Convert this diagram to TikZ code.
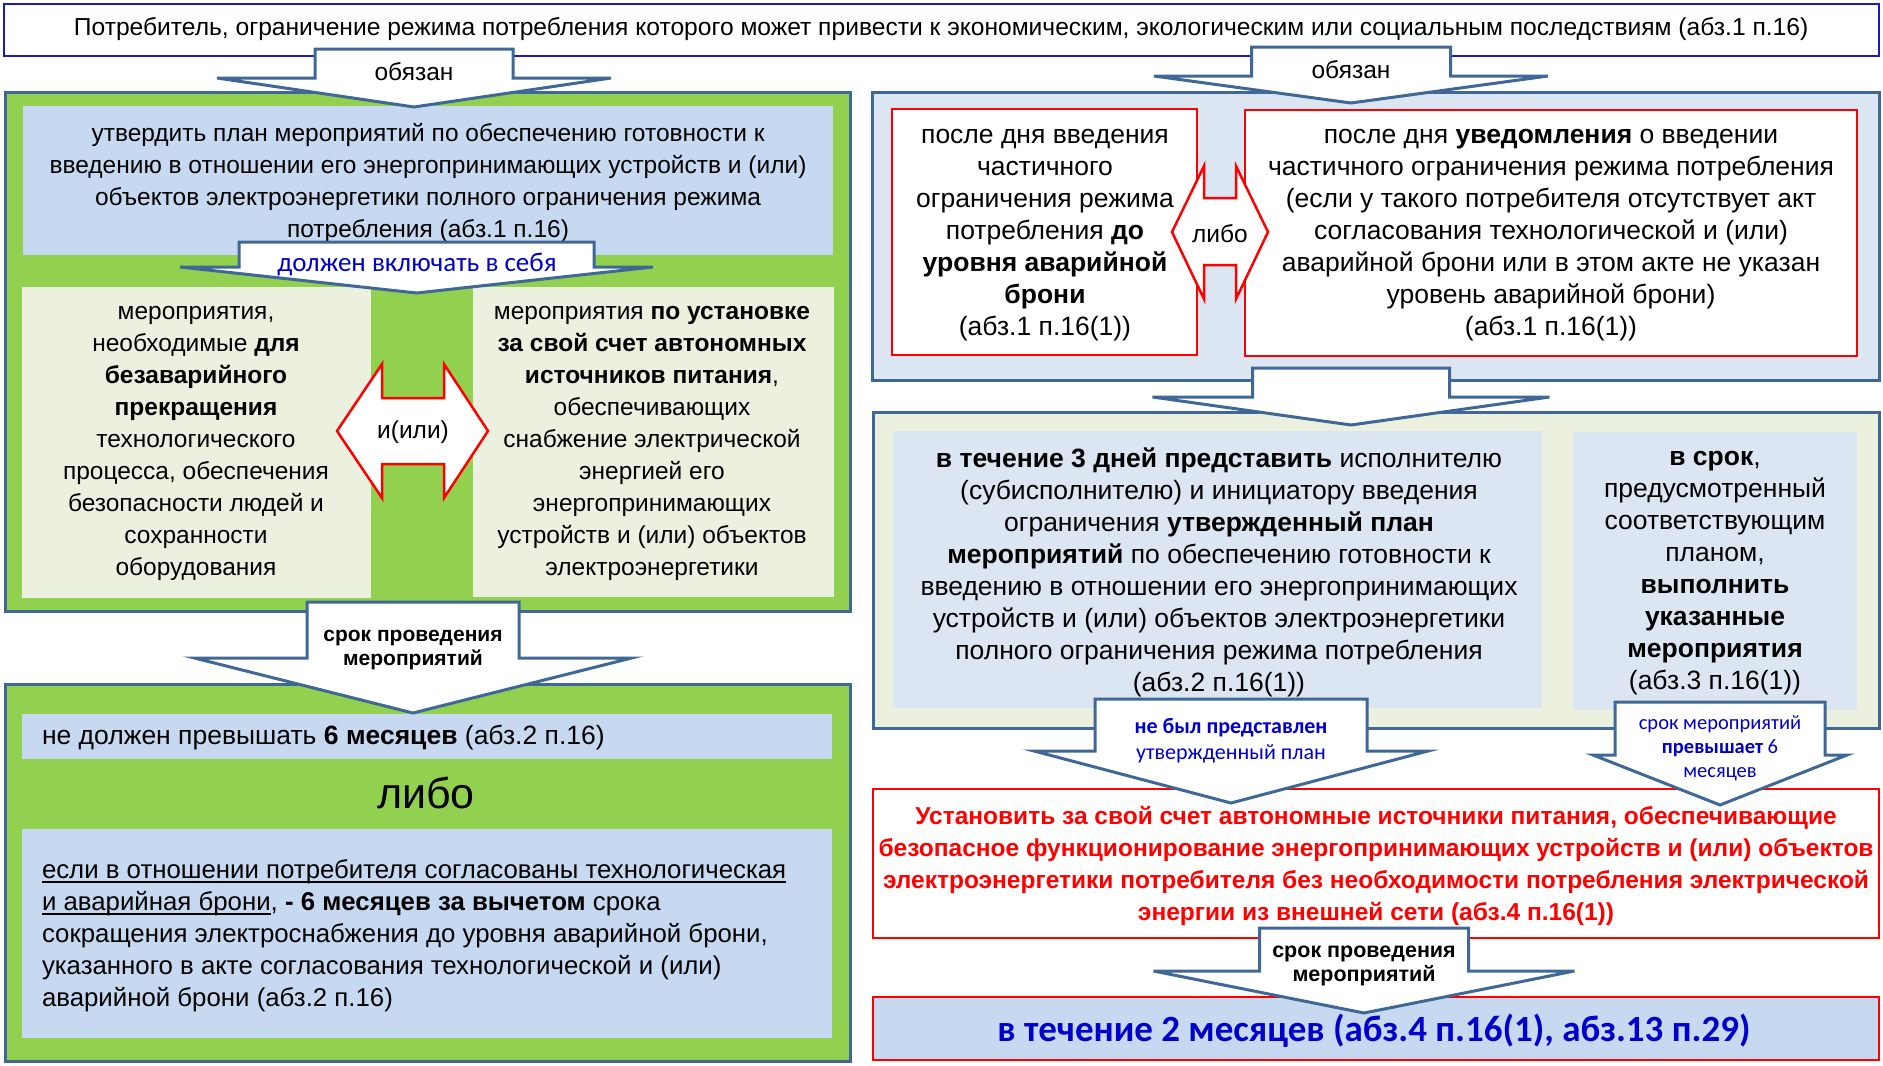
\documentclass[tikz,border=0pt]{standalone}
\usepackage{fontspec}
\setmainfont{Liberation Sans}
\newfontfamily\clb{Carlito}
\definecolor{grn}{HTML}{92D050}
\definecolor{bord}{HTML}{3F6896}
\definecolor{lblue}{HTML}{C6D9F1}
\definecolor{pblue}{HTML}{DCE6F2}
\definecolor{cream}{HTML}{EBF1DE}
\definecolor{tblue}{HTML}{0000CC}
\definecolor{topb}{HTML}{1A1AC8}
\definecolor{rd}{HTML}{FF0000}
\newcommand\ulx[1]{\setbox0\hbox{#1}\rlap{\rule[-4.5pt]{\wd0}{1.8pt}}\box0}
\newcommand\bx[6]{\node[#2, anchor=north west, inner sep=0pt, outer sep=0pt, minimum width={#5-#3}, minimum height={#6-#4}] (#1) at (#3,#4) {};}
% name, cx, shaft half, head half, top, shoulder, tip
\newcommand\dnarrow[7]{\draw[barrow] (#2-#3,#5) -- (#2+#3,#5) -- (#2+#3,#6) -- (#2+#4,#6) -- (#2,#7) -- (#2-#4,#6) -- (#2-#3,#6) -- cycle;
\coordinate (#1) at (#2,#7);}
% left tip x, shaft left, shaft right, right tip x, head top, shaft top, mid y, shaft bottom, head bottom
\newcommand\lrarrow[9]{\draw[rarrow] (#1,#7) -- (#2,#5) -- (#2,#6) -- (#3,#6) -- (#3,#5) -- (#4,#7) -- (#3,#9) -- (#3,#8) -- (#2,#8) -- (#2,#9) -- cycle;}
\begin{document}
\begin{tikzpicture}[x=1pt,y=-1pt,
  panel/.style={draw=bord, line width=3pt},
  barrow/.style={draw=bord, line width=3pt, fill=white, line join=miter},
  rarrow/.style={draw=rd, line width=2.5pt, fill=white, line join=miter},
  txt/.style={inner sep=0pt, outer sep=0pt, align=center, text=black},
  f24/.style={font=\fontsize{24.5}{32}\selectfont},
  f26/.style={font=\fontsize{26.5}{32}\selectfont},
  fsm/.style={font=\fontsize{21}{24}\selectfont\bfseries},
  fcl/.style={font=\clb\fontsize{20.5}{24}\selectfont, text=tblue}]
\fill[white] (0,0) rectangle (1883,1066);
\useasboundingbox (0,0) rectangle (1883,1066);

% top box
\bx{top}{draw=topb, line width=2.5pt, fill=white}{4}{4}{1879}{56}
\node[txt,font=\fontsize{24.6}{30}\selectfont] (ttop) at (941,29) {Потребитель, ограничение режима потребления которого может привести к экономическим, экологическим или социальным последствиям (абз.1 п.16)};

% left column
\bx{lg1}{panel, fill=grn}{5}{92}{850}{611}
\bx{lb1}{fill=lblue}{23}{106}{833}{255}
\bx{lc1}{fill=cream}{22}{287}{371}{598}
\bx{lc2}{fill=cream}{473}{287}{834}{597}
\bx{lg2}{panel, fill=grn}{5}{684}{850}{1061}
\bx{lb2}{fill=lblue}{22}{714}{832}{759}
\bx{lb3}{fill=lblue}{22}{829}{832}{1038}

% right column
\bx{rp1}{panel, fill=pblue}{872}{92}{1879}{380}
\bx{rr1}{draw=rd, line width=2pt, fill=white}{892}{109}{1197}{355}
\bx{rr2}{draw=rd, line width=2pt, fill=white}{1245}{110}{1857}{356}
\bx{rp2}{panel, fill=cream}{873}{412}{1879}{728}
\bx{rb1}{fill=pblue}{893}{431}{1542}{708}
\bx{rb2}{fill=pblue}{1573}{432}{1857}{710}
\bx{rr3}{draw=rd, line width=2pt, fill=white}{873}{789}{1879}{938}
\bx{rb4}{draw=rd, line width=2pt, fill=lblue}{873}{997}{1879}{1060}

% texts in boxes
\node[txt,f24] (tlb1) at (428,183) {утвердить план мероприятий по обеспечению готовности к\\введению в отношении его энергопринимающих устройств и (или)\\объектов электроэнергетики полного ограничения режима\\потребления (абз.1 п.16)};
\node[txt,f24] (tlc1) at (196,443) {мероприятия,\\необходимые \textbf{для}\\\textbf{безаварийного}\\\textbf{прекращения}\\технологического\\процесса, обеспечения\\безопасности людей и\\сохранности\\оборудования};
\node[txt,f24] (tlc2) at (652,443) {мероприятия \textbf{по установке}\\\textbf{за свой счет автономных}\\\textbf{источников питания},\\обеспечивающих\\снабжение электрической\\энергией его\\энергопринимающих\\устройств и (или) объектов\\электроэнергетики};
\node[txt,font=\fontsize{26.5}{32}\selectfont,anchor=west] (tlb2) at (42,738) {не должен превышать \textbf{6 месяцев} (абз.2 п.16)};
\node[txt,font=\fontsize{43}{48}\selectfont] (tlibo) at (426,793) {либо};
\node[txt,font=\fontsize{25.8}{32}\selectfont,anchor=west,align=left] (tlb3) at (42,936) {\ulx{если в отношении потребителя согласованы технологическая}\\\ulx{и аварийная брони}, \textbf{- 6 месяцев за вычетом} срока\\сокращения электроснабжения до уровня аварийной брони,\\указанного в акте согласования технологической и (или)\\аварийной брони (абз.2 п.16)};

\node[txt,f26] (trr1) at (1045,235) {после дня введения\\частичного\\ограничения режима\\потребления \textbf{до}\\\textbf{уровня аварийной}\\\textbf{брони}\\(абз.1 п.16(1))};
\node[txt,f26] (trr2) at (1551,235) {после дня \textbf{уведомления} о введении\\частичного ограничения режима потребления\\(если у такого потребителя отсутствует акт\\согласования технологической и (или)\\аварийной брони или в этом акте не указан\\уровень аварийной брони)\\(абз.1 п.16(1))};
\node[txt,f26] (trb1) at (1219,572) {\textbf{в течение 3 дней представить} исполнителю\\(субисполнителю) и инициатору введения\\ограничения \textbf{утвержденный план}\\\textbf{мероприятий} по обеспечению готовности к\\введению в отношении его энергопринимающих\\устройств и (или) объектов электроэнергетики\\полного ограничения режима потребления\\(абз.2 п.16(1))};
\node[txt,f26] (trb2) at (1715,573) {\textbf{в срок},\\предусмотренный\\соответствующим\\планом,\\\textbf{выполнить}\\\textbf{указанные}\\\textbf{мероприятия}\\(абз.3 п.16(1))};

% double arrows
\lrarrow{337}{382}{444}{488}{364}{398}{431}{464}{498}
\node[txt,f24] (tdl1) at (413,432) {и(или)};
\lrarrow{1172}{1204}{1236}{1268}{166}{198}{232}{265}{299}
\node[txt,f24] (tdl2) at (1220,234) {либо};

% block arrows
\dnarrow{a1}{414}{99}{197}{49}{78}{107}
\node[txt,f24] (ta1) at (414,72) {обязан};
\dnarrow{a2}{1351}{99.5}{197}{47}{76}{103}
\node[txt,f24] (ta2) at (1351,70) {обязан};
\dnarrow{a3}{416.5}{177.5}{236.5}{242}{267}{293}
\node[txt,font=\clb\fontsize{27}{30}\selectfont, text=tblue] (ta3) at (417,265) {должен включать в себя};
\dnarrow{a4}{413}{106}{218.5}{602}{658}{713}
\node[txt,fsm] (ta4) at (413,650) {срок проведения\\мероприятий};
\dnarrow{a5}{1351}{98.5}{198.5}{368}{397}{425}
\dnarrow{a6}{1231}{136}{197}{699}{751}{803}
\node[txt,font=\clb\fontsize{22}{26}\selectfont, text=tblue] (ta6) at (1231,741) {\textbf{не был представлен}\\утвержденный план};
\dnarrow{a7}{1720}{105}{127}{702}{755}{805}
\node[txt,fcl] (ta7) at (1720,748) {срок мероприятий\\\textbf{превышает} 6\\месяцев};

\node[txt,font=\fontsize{24.5}{32}\selectfont\bfseries, text=rd] (trr3) at (1376,866) {Установить за свой счет автономные источники питания, обеспечивающие\\безопасное функционирование энергопринимающих устройств и (или) объектов\\электроэнергетики потребителя без необходимости потребления электрической\\энергии из внешней сети (абз.4 п.16(1))};

\dnarrow{a8}{1364}{104.5}{210.5}{928}{971}{1013}
\node[txt,font=\fontsize{21.5}{24}\selectfont\bfseries] (ta8) at (1364,966) {срок проведения\\мероприятий};
\node[txt,font=\clb\bfseries\fontsize{37}{40}\selectfont, text=tblue] (trb4) at (1374,1031) {в течение 2 месяцев (абз.4 п.16(1), абз.13 п.29)};
\end{tikzpicture}
\end{document}
